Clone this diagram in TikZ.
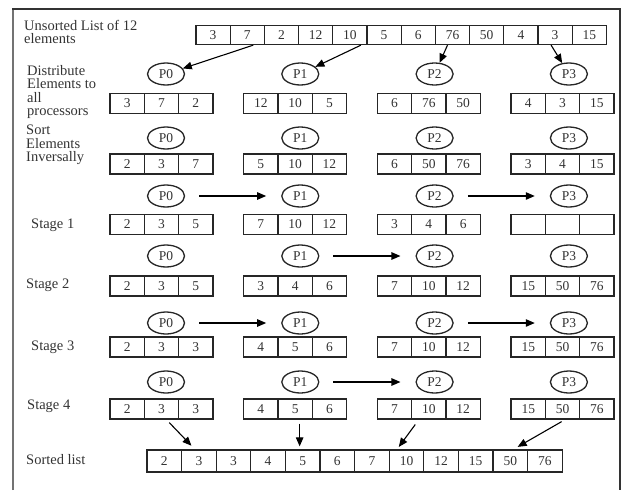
\documentclass[tikz,border=0pt]{standalone}
\usepackage{fontspec}
\setmainfont{Liberation Serif}
\usetikzlibrary{arrows.meta,shapes.geometric}

\begin{document}
\begin{tikzpicture}[x=1pt,y=-1pt,
  every node/.style={font=\fontsize{13.5}{13.5}\selectfont,text=black!80},
  cell/.style={draw=black!85,line width=1.3pt,minimum width=34.3pt,minimum height=20pt,inner sep=0pt},
  proc/.style={draw=black!85,ellipse,line width=1.3pt,minimum width=37pt,minimum height=22pt,inner sep=0pt},
  lbl/.style={anchor=west,align=left,inner sep=1pt,font=\fontsize{14.5}{13.5}\selectfont},
  arr/.style={line width=1.1pt,-{Triangle[length=9pt,width=7.5pt]}},
  pass/.style={arr,shorten <=14pt,shorten >=15pt}]
  \useasboundingbox (0,0) rectangle (623,490);
  % frame
  \draw[black!55,line width=2.5pt] (13,490) -- (13,9);
  \draw[black!80,line width=1.5pt] (12,9) -- (620,9) -- (620,490);

  % unsorted input
  \node[lbl] (unsortedlbl) at (23,32) {Unsorted List of 12\\elements};
  \foreach \v [count=\i] in {3,7,2,12,10,5,6,76,50,4,3,15}
    \node[cell,minimum width=34.2pt,minimum height=19pt] (u\i) at (196+34.2*\i-17.1,35) {\v};

  % processor rows
  \foreach \r/\cy/\by/\vals in {
      dist/74/103.5/{3,7,2,12,10,5,6,76,50,4,3,15},
      sort/138/164/{2,3,7,5,10,12,6,50,76,3,4,15},
      st1/196/224.5/{2,3,5,7,10,12,3,4,6,{},{},{}},
      st2/256/286/{2,3,5,3,4,6,7,10,12,15,50,76},
      st3/323/347/{2,3,3,4,5,6,7,10,12,15,50,76},
      st4/382/409/{2,3,3,4,5,6,7,10,12,15,50,76}} {
    \foreach \g in {0,...,3}
      \node[proc] (\r-p\g) at (166+134.3*\g,\cy) {P\g};
    \foreach \v [count=\i, evaluate=\i as \g using {int((\i-1)/3)},
                 evaluate=\i as \k using {int(mod(\i-1,3))}] in \vals
      \node[cell] (\r-\i) at (110+133.7*\g+34.3*\k+17.15,\by) {\v};
  }

  \node[lbl] (distlbl) at (26,92) {Distribute\\Elements to\\all\\processors};
  \node[lbl] (sortlbl) at (25,145) {Sort\\Elements\\Inversally};
  \node[lbl] (st1lbl) at (30,225) {Stage 1};
  \node[lbl] (st2lbl) at (25,285) {Stage 2};
  \node[lbl] (st3lbl) at (30,347) {Stage 3};
  \node[lbl] (st4lbl) at (26,406) {Stage 4};
  \node[lbl] (sortedlbl) at (25,460) {Sorted list};

  % sorted output
  \foreach \v [count=\i] in {2,3,3,4,5,6,7,10,12,15,50,76}
    \node[cell,minimum width=34.6pt,minimum height=22pt] (s\i) at (147+34.6*\i-17.3,461) {\v};

  % distribute
  \draw[arr] ([xshift=6pt]u2.south) -- (dist-p0);
  \draw[arr] ([xshift=11pt]u5.south) -- (dist-p1);
  \draw[arr] ([xshift=-5pt]u8.south) -- (dist-p2);
  \draw[arr] ([xshift=-4pt]u11.south) -- (dist-p3);

  % exchanges
  \draw[pass] (st1-p0) -- (st1-p1);
  \draw[pass] (st1-p2) -- (st1-p3);
  \draw[pass] (st2-p1) -- (st2-p2);
  \draw[pass] (st3-p0) -- (st3-p1);
  \draw[pass] (st3-p2) -- (st3-p3);
  \draw[pass] (st4-p1) -- (st4-p2);

  % gather
  \draw[arr,shorten <=4pt,shorten >=5pt] ([xshift=5pt]st4-2.south) -- ([xshift=-4pt]s2.north);
  \draw[arr,shorten <=4pt,shorten >=3pt] ([xshift=4.5pt]st4-5.south) -- ([xshift=4.5pt]st4-5.south |- s5.north);
  \draw[arr,shorten <=6pt,shorten >=3pt] ([xshift=-10pt]st4-8.south) -- ([xshift=-9.5pt]s8.north);
  \draw[arr,shorten <=4pt,shorten >=5pt] ([xshift=2.5pt]st4-11.south) -- ([xshift=3pt]s11.north);
\end{tikzpicture}
\end{document}
